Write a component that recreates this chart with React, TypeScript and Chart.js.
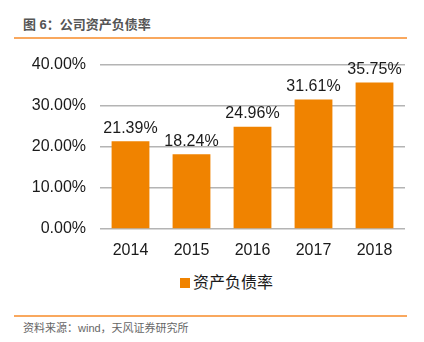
import React, { useEffect, useRef } from "react";
import { Chart, registerables } from "chart.js";

Chart.register(...registerables);

const categories = ["2014", "2015", "2016", "2017", "2018"];
const debtRatio = [21.39, 18.24, 24.96, 31.61, 35.75];
const yTicks = [0, 10, 20, 30, 40];
const seriesName = "资产负债率";
const titleText = "图 6：公司资产负债率";
const sourceText = "资料来源：wind，天风证券研究所";

const FONT = "'Liberation Sans', 'Noto Sans CJK SC', sans-serif";
const ORANGE = "#F08300";

const labelPlugin = {
  id: "barLabels",
  afterDatasetsDraw(chart: any) {
    const ctx = chart.ctx;
    const meta = chart.getDatasetMeta(0);
    ctx.save();
    ctx.font = `16px ${FONT}`;
    ctx.fillStyle = "#1a1a1a";
    ctx.textAlign = "center";
    ctx.textBaseline = "bottom";
    meta.data.forEach((bar: any, i: number) => {
      ctx.fillText(debtRatio[i].toFixed(2) + "%", bar.x, bar.y - 5);
    });
    ctx.restore();
  },
};

export default function App() {
  const ref = useRef<HTMLCanvasElement>(null);
  useEffect(() => {
    document.body.style.margin = "0";
    const chart = new Chart(ref.current!, {
      type: "bar",
      data: {
        labels: categories,
        datasets: [
          {
            label: seriesName,
            data: debtRatio,
            backgroundColor: ORANGE,
            borderWidth: 0,
            categoryPercentage: 0.62,
            barPercentage: 1,
          },
        ],
      },
      options: {
        animation: false,
        responsive: false,
        maintainAspectRatio: false,
        layout: { padding: { top: 25, right: 19, left: 0, bottom: 0 } },
        plugins: {
          tooltip: { enabled: false },
          legend: { display: false },
        },
        scales: {
          x: {
            grid: { display: false, drawTicks: false },
            border: { display: false },
            ticks: { color: "#1a1a1a", font: { family: FONT, size: 16 }, padding: 12 },
            afterFit(scale: any) {
              scale.height = 34;
            },
          },
          y: {
            min: 0,
            max: 40,
            afterBuildTicks(scale: any) {
              scale.ticks = yTicks.map((v) => ({ value: v }));
            },
            grid: { color: "#b4b4b4", lineWidth: 1.5, drawTicks: false },
            border: { display: false },
            ticks: {
              color: "#1a1a1a",
              font: { family: FONT, size: 16 },
              padding: 14,
              callback: (v: any) => Number(v).toFixed(2) + "%",
            },
            afterFit(scale: any) {
              scale.width = 100;
            },
          },
        },
      },
      plugins: [labelPlugin],
    });
    return () => chart.destroy();
  }, []);

  return (
    <div style={{ position: "relative", width: 424, height: 342, background: "#fff", fontFamily: FONT }}>
      <div
        style={{
          position: "absolute",
          left: 23,
          top: 16,
          fontSize: 13,
          fontWeight: "bold",
          color: "#555",
          lineHeight: "18px",
          whiteSpace: "nowrap",
        }}
      >
        {titleText}
      </div>
      <div style={{ position: "absolute", left: 14, top: 37, width: 393, height: 2, background: "#F9A85E" }} />
      <canvas ref={ref} width={424} height={223} style={{ position: "absolute", left: 0, top: 40 }} />
      <div style={{ position: "absolute", left: 180, top: 278, width: 10, height: 10, background: ORANGE }} />
      <div
        style={{
          position: "absolute",
          left: 193,
          top: 273,
          fontSize: 16,
          color: "#1a1a1a",
          lineHeight: "20px",
          whiteSpace: "nowrap",
        }}
      >
        {seriesName}
      </div>
      <div style={{ position: "absolute", left: 14, top: 315, width: 393, height: 2, background: "#F9A85E" }} />
      <div
        style={{
          position: "absolute",
          left: 23,
          top: 321,
          fontSize: 11,
          color: "#666",
          lineHeight: "15px",
          whiteSpace: "nowrap",
        }}
      >
        {sourceText}
      </div>
    </div>
  );
}
